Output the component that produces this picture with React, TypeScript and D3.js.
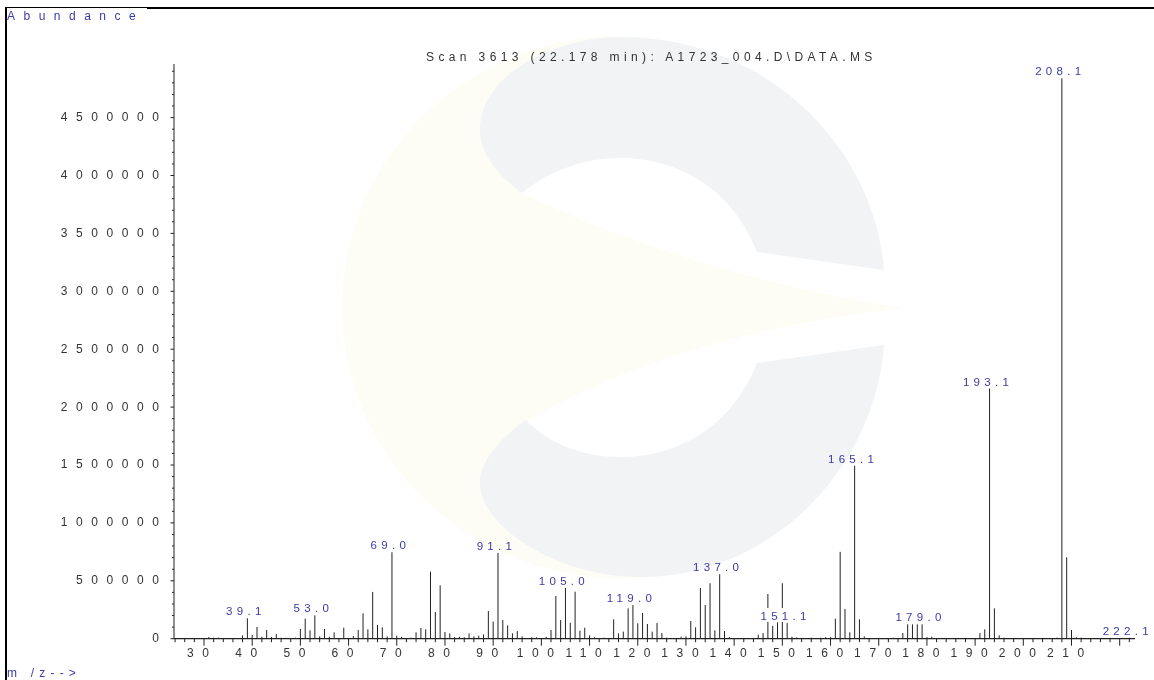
import React from "react";
import * as d3 from "d3";

// abundance per integer m/z, one array per decade
const mass30s = [0, 14000, 9000, 9000, 6000, 6000, 6000, 6000, 29000, 176000];
const mass40s = [32000, 101000, 17000, 75000, 15000, 40000, 8000, 8000, 6000, 9000];
const mass50s = [84000, 173000, 72000, 202000, 20000, 84000, 17000, 55000, 6000, 95000];
const mass60s = [6000, 23000, 75000, 219000, 81000, 404000, 118000, 98000, 20000, 747000];
const mass70s = [26000, 17000, 6000, 9000, 55000, 92000, 81000, 579000, 231000, 461000];
const mass80s = [58000, 46000, 14000, 17000, 12000, 46000, 20000, 26000, 37000, 239000];
const mass90s = [147000, 741000, 161000, 115000, 46000, 66000, 20000, 6000, 12000, 12000];
const mass100s = [0, 17000, 75000, 369000, 161000, 438000, 138000, 406000, 69000, 95000];
const mass110s = [29000, 12000, 6000, 9000, 6000, 167000, 46000, 61000, 262000, 291000];
const mass120s = [133000, 222000, 127000, 61000, 136000, 49000, 9000, 6000, 6000, 17000];
const mass130s = [20000, 153000, 98000, 438000, 291000, 479000, 72000, 556000, 66000, 14000];
const mass140s = [6000, 6000, 6000, 6000, 3000, 35000, 49000, 386000, 110000, 141000];
const mass150s = [479000, 136000, 17000, 12000, 6000, 3000, 9000, 6000, 9000, 14000];
const mass160s = [14000, 173000, 750000, 257000, 55000, 1494000, 167000, 20000, 6000, 3000];
const mass170s = [6000, 6000, 6000, 9000, 6000, 49000, 124000, 124000, 124000, 124000];
const mass180s = [14000, 17000, 6000, 6000, 6000, 6000, 6000, 6000, 6000, 6000];
const mass190s = [6000, 49000, 81000, 2160000, 262000, 29000, 9000, 6000, 6000, 6000];
const mass200s = [6000, 6000, 6000, 6000, 6000, 6000, 6000, 9000, 4840000, 703000];
const mass210s = [75000, 12000, 9000, 6000, 6000, 6000, 6000, 6000, 6000, 6000];
const mass220s = [6000, 6000, 8000];

const abundance = [
  ...mass30s, ...mass40s, ...mass50s, ...mass60s, ...mass70s, ...mass80s, ...mass90s,
  ...mass100s, ...mass110s, ...mass120s, ...mass130s, ...mass140s, ...mass150s,
  ...mass160s, ...mass170s, ...mass180s, ...mass190s, ...mass200s, ...mass210s, ...mass220s,
];
const labelledPeaks = ["39.1", "53.0", "69.0", "91.1", "105.0", "119.0", "137.0", "151.1", "165.1", "179.0", "193.1", "208.1", "222.1"];
const yTickValues = [0, 500000, 1000000, 1500000, 2000000, 2500000, 3000000, 3500000, 4000000, 4500000];
const xTickValues = [30, 40, 50, 60, 70, 80, 90, 100, 110, 120, 130, 140, 150, 160, 170, 180, 190, 200, 210];
const titleText = "Scan 3613 (22.178 min): A1723_004.D\\DATA.MS";

const BLUE = "#3a3aa8";
const FONT = "'Liberation Sans', Arial, sans-serif";

const x = d3.scaleLinear().domain([30, 220]).range([204, 1119.7]);
const y = d3.scaleLinear().domain([0, 4500000]).range([638.7, 117.6]);

export default function App() {
  const minorY = d3.range(0, 4960000, 100000);
  const minorX = d3.range(24, 224, 2);
  return (
    <svg width={1154} height={680} style={{ position: "absolute", left: 0, top: 0, background: "#fff" }} fontFamily={FONT}>
      {/* frame */}
      <line x1={6} x2={6} y1={7} y2={680} stroke="#000" strokeWidth={2} />
      <line x1={147} x2={1154} y1={8} y2={8} stroke="#000" strokeWidth={2} />
      <line x1={5} x2={147} y1={7.5} y2={7.5} stroke="#000" strokeWidth={1} />

      <text x={7} y={20} fontSize={12} fill={BLUE} letterSpacing={8.5}>Abundance</text>
      <text x={426} y={61} fontSize={12} fill="#333" letterSpacing={4.38}>{titleText}</text>
      <text x={7} y={677} fontSize={12} fill={BLUE} letterSpacing={5.2}>{"m /z-->"}</text>

      {/* y axis */}
      <line x1={174} x2={174} y1={64} y2={y(0)} stroke="#555" strokeWidth={1.3} />
      {minorY.map((v) => (
        <line key={v} x1={v % 500000 === 0 ? 170.5 : 172} x2={174} y1={y(v)} y2={y(v)} stroke="#222" strokeWidth={1} />
      ))}
      {yTickValues.map((v) => (
        <text key={v} x={159 + 8.6} y={y(v) + 3.4} textAnchor="end" fontSize={12} fill="#333" letterSpacing={8.6}>{v}</text>
      ))}

      {/* x axis */}
      <line x1={174} x2={1135} y1={y(0)} y2={y(0)} stroke="#222" strokeWidth={1.3} />
      {minorX.map((m) => (
        <line key={m} x1={x(m)} x2={x(m)} y1={y(0)} y2={y(0) + (m % 10 === 0 ? 7 : 3.5)} stroke="#222" strokeWidth={1} />
      ))}
      {xTickValues.map((m) => (
        <text key={m} x={x(m) - 1.7} y={656.5} textAnchor="middle" fontSize={12} fill="#333" letterSpacing={8.6}>{m}</text>
      ))}

      {/* peaks */}
      {abundance.map((v, i) => (
        <line key={i} x1={x(30 + i)} x2={x(30 + i)} y1={y(0)} y2={y(v)} stroke="#222" strokeWidth={1} />
      ))}

      {/* peak labels, each on a white box that masks what lies behind */}
      {labelledPeaks.map((t) => {
        const m = Math.round(+t);
        const cx = x(m) - 3.7;
        const base = y(abundance[m - 30]) - 3;
        return (
          <g key={t}>
            <rect x={cx - t.length * 4.8} y={base - 12} width={t.length * 9.6} height={14} fill="#fff" />
            <text x={cx + 2.15} y={base} textAnchor="middle" fontSize={11.5} fill={BLUE} letterSpacing={4.3}>{t}</text>
          </g>
        );
      })}

      {/* watermark, blended over the chart */}
      <g style={{ mixBlendMode: "multiply" }}>
        <path d="M620,36 A278,271 0 0 0 620,578 L 640,578 L 526,422 C 620,365 750,325 905,308 C 780,290 640,250 522,193 Z" fill="#fdfdf5" />
        <path d="M522,193 C490,170 478,145 480,125 C485,70 560,37 620,37 C770,37 875,150 884,270 L757,252 C733,190 680,158 620,158 C585,158 550,170 522,193 Z" fill="#f1f3f5" />
        <path d="M526,420 C490,445 478,470 480,487 C485,530 560,577 640,577 C770,577 875,470 884,345 L757,363 C733,425 680,457 620,457 C585,457 550,445 526,420 Z" fill="#f1f3f5" />
      </g>
    </svg>
  );
}
